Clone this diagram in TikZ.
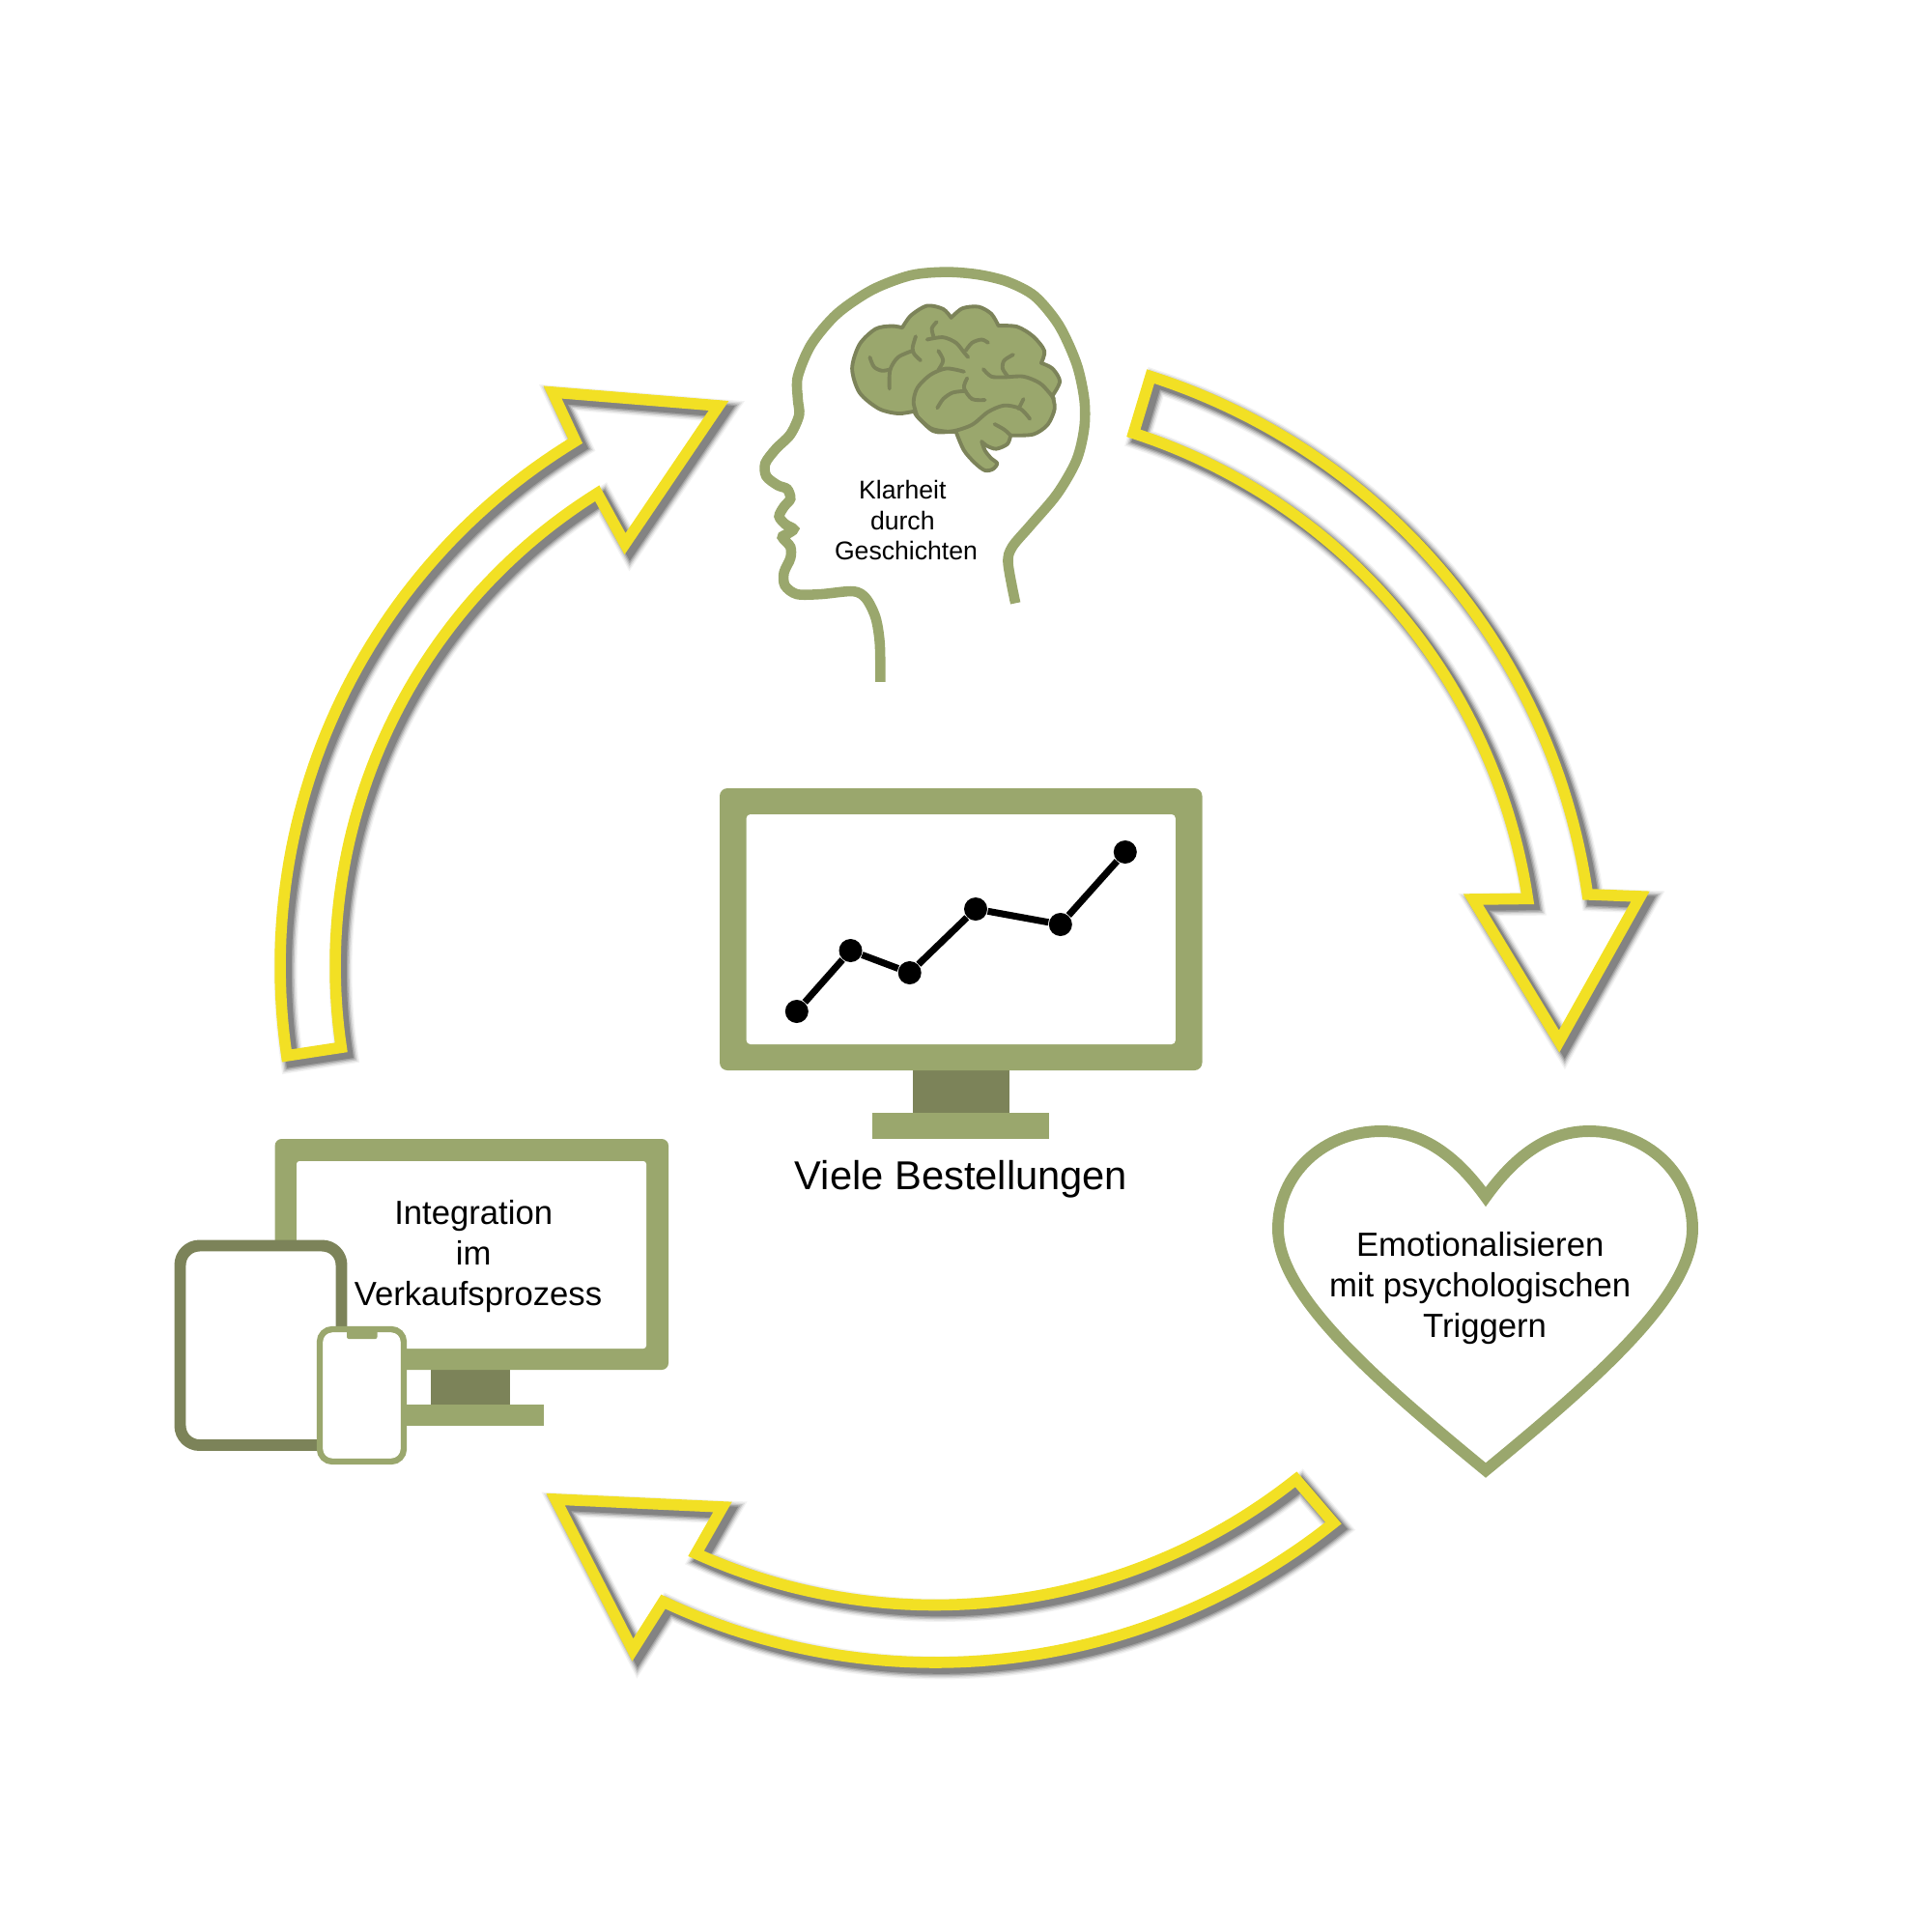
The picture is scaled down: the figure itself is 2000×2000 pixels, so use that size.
\documentclass[tikz,border=0pt]{standalone}
\usepackage{fontspec}
\setmainfont{Liberation Sans}
\usepackage{xcolor}
\usepackage{tikz}
\usetikzlibrary{positioning,calc}
\definecolor{leafgreen}{HTML}{9AA76D}
\definecolor{darkgreen}{HTML}{7C8359}
\definecolor{arrowyellow}{HTML}{F2E024}
\newcommand{\tspace}{\rule{0.278em}{0pt}}
\tikzset{
  arrowline/.style={draw=arrowyellow, line width=3.3pt, line join=miter, miter limit=15},
  chartdot/.style={circle, fill=black, inner sep=0pt, minimum size=0.24cm},
  label/.style={align=center, font=\fontsize{9.86}{11.85}\selectfont},
  headline/.style={draw=leafgreen, line width=3pt},
  brainline/.style={draw=darkgreen, line width=1.1pt, line cap=round, line join=round},
}
% hollow arrow with a soft shadow, the path is the argument
\newcommand{\shadowarrow}[1]{%
  \foreach \w/\o in {6.8/.05, 6/.08, 5.2/.12, 4.4/.16, 3.6/.2}
    \draw[shift={(5.5,5.5)}, black, line width=\w pt, opacity=\o, line join=miter, miter limit=15] #1;
  \draw[arrowline] #1;
}
\begin{document}
\begin{tikzpicture}[x=0.01cm, y=-0.01cm]
  \useasboundingbox (0,0) rectangle (2000,2000);

  % Arrows
  \shadowarrow{plot[domain=-72.2:-8.1, samples=60] ({989+661*cos(\x)},{1019+661*sin(\x)})
    -- (1698,928) -- (1614,1078) -- (1525,931)
    -- plot[domain=-8.5:-72, samples=60] ({988+600*cos(\x)},{1019+600*sin(\x)}) -- cycle}
  \shadowarrow{plot[domain=171.6:238.7, samples=60] ({926+636*cos(\x)},{1000+636*sin(\x)})
    -- (572,406) -- (744,420) -- (647,563)
    -- plot[domain=238:171.6, samples=60] ({924+577*cos(\x)},{1000+577*sin(\x)}) -- cycle}
  \shadowarrow{plot[domain=51.6:114.3, samples=60] ({968+601.5*cos(\x)},{1060+601.5*sin(\x)})
    -- (748,1560) -- (575,1552) -- (655,1708)
    -- plot[domain=115.2:51.4, samples=60] ({968+661*cos(\x)},{1060+661*sin(\x)}) -- cycle}

  % Head with brain
  \begin{scope}[shift={(750,250)}, x=0.00333cm, y=-0.00333cm]
    \draw[headline] plot[smooth] coordinates {(905,1125) (882,1000) (895,950) (950,885) (1035,785) (1095,680) (1119,580) (1119,490) (1095,380) (1040,260) (965,170) (880,125) (790,103) (690,95) (580,105) (460,150) (350,225) (270,320) (228,420) (228,490) (232,540) (205,600) (160,645) (127,690) (130,730) (165,758) (195,770) (205,800) (185,825) (170,855) (190,880) (215,895) (195,910) (180,920) (205,950) (205,985) (185,1030) (188,1070) (225,1097) (300,1097) (400,1088) (440,1110) (470,1170) (483,1250) (485,1370)};
    \draw[brainline, fill=leafgreen]
      plot[smooth] coordinates {(553,268) (520,263) (470,272) (420,320) (397,395) (420,470) (480,520) (540,535) (590,528)}
      -- plot[smooth] coordinates {(590,528) (600,545) (640,580) (680,590) (720,592)}
      -- plot[smooth] coordinates {(720,592) (745,650) (780,690) (810,712) (835,708) (848,690) (830,675) (810,650) (800,622)}
      -- plot[smooth] coordinates {(800,622) (815,635) (845,645) (880,630) (890,603)}
      -- plot[smooth] coordinates {(890,603) (960,600) (1005,570) (1027,520) (1020,480)}
      -- plot[smooth] coordinates {(1020,480) (1043,435) (1020,395) (985,378)}
      -- plot[smooth] coordinates {(985,378) (995,340) (960,295) (910,265) (852,262)}
      -- plot[smooth] coordinates {(852,262) (830,225) (790,203) (740,208) (705,237)}
      -- plot[smooth] coordinates {(705,237) (680,210) (630,200) (580,230) (553,268)} -- cycle;
    \draw[brainline] plot[smooth] coordinates {(452,360) (465,390) (490,402) (515,398)};
    \draw[brainline] plot[smooth] coordinates {(513,458) (515,400) (540,360) (585,340)};
    \draw[brainline] plot[smooth] coordinates {(595,295) (585,330) (590,350) (610,370)};
    \draw[brainline] plot[smooth] coordinates {(660,250) (645,270) (650,295)};
    \draw[brainline] plot[smooth] coordinates {(630,305) (680,298) (720,315) (745,345) (758,360)};
    \draw[brainline] plot[smooth] coordinates {(750,340) (770,315) (800,305) (820,315)};
    \draw[brainline] plot[smooth] coordinates {(665,340) (680,370) (665,400)};
    \draw[brainline] plot[smooth] coordinates {(745,405) (690,395) (640,415) (600,455) (588,500) (600,545)};
    \draw[brainline] plot[smooth] coordinates {(898,352) (870,370) (865,395) (880,418)};
    \draw[brainline] plot[smooth] coordinates {(805,397) (830,420) (870,422) (930,420) (980,440) (1010,470) (1025,490)};
    \draw[brainline] plot[smooth] coordinates {(755,425) (745,455) (770,490) (810,493)};
    \draw[brainline] plot[smooth] coordinates {(662,518) (680,490) (710,470) (750,465)};
    \draw[brainline] plot[smooth] coordinates {(600,545) (650,590) (710,590) (770,570) (820,530) (870,510) (920,520) (950,552)};
    \draw[brainline] plot[smooth] coordinates {(930,490) (915,520)};
    \draw[brainline] plot[smooth] coordinates {(840,568) (870,585) (890,603)};
  \end{scope}
  \node[label, font=\fontsize{7.57}{9.05}\selectfont] (klarheit) at (938,538.5) {Klarheit\tspace\\durch\tspace\\Geschichten};

  % Center monitor
  \fill[darkgreen] (944.7,1100) rectangle (1045,1152);
  \fill[leafgreen] (903,1152) rectangle (1086,1179);
  \fill[leafgreen, rounded corners=0.08cm] (745,816) rectangle (1244.5,1108);
  \fill[white, rounded corners=0.04cm] (772.7,843) rectangle (1216.8,1081);
  \node[chartdot] (d1) at (824.8,1047) {};
  \node[chartdot] (d2) at (880.5,984) {};
  \node[chartdot] (d3) at (941.7,1007) {};
  \node[chartdot] (d4) at (1010,941) {};
  \node[chartdot] (d5) at (1097.8,957) {};
  \node[chartdot] (d6) at (1164.8,882) {};
  \draw[line width=2pt] (d1) -- (d2) -- (d3) -- (d4) -- (d5) -- (d6);
  \node[font=\fontsize{11.85}{14}\selectfont] (bestellungen) at (995,1221) {Viele Bestellungen};

  % Heart
  \draw[draw=leafgreen, line width=3.4pt, line join=miter, miter limit=15] (1538,1239)
    .. controls (1510,1200) and (1475,1171) .. (1430,1171)
    .. controls (1370,1171) and (1323,1215) .. (1323,1272)
    .. controls (1323,1340) and (1420,1425) .. (1538,1522)
    .. controls (1656,1425) and (1752,1340) .. (1752,1272)
    .. controls (1752,1215) and (1705,1171) .. (1645,1171)
    .. controls (1600,1171) and (1566,1200) .. (1538,1239) -- cycle;
  \node[label] (herz) at (1537,1333.5) {Emotionalisieren\tspace\\mit psychologischen\tspace\\Triggern};

  % Devices
  \fill[darkgreen] (446,1410) rectangle (528,1454);
  \fill[leafgreen] (414,1454) rectangle (562.5,1476);
  \fill[leafgreen, rounded corners=0.07cm] (284.6,1179) rectangle (692,1418);
  \fill[white, rounded corners=0.03cm] (307,1202) rectangle (669,1396);
  \node[label] (integration) at (495,1300.5) {Integration\tspace\\im\tspace\\Verkaufsprozess};
  \draw[darkgreen, fill=white, line width=3.4pt, rounded corners=0.2cm] (186.5,1289.5) rectangle (353.5,1496);
  \draw[leafgreen, fill=white, line width=1.8pt, rounded corners=0.13cm] (331,1376) rectangle (418,1513);
  \fill[leafgreen, rounded corners=0.02cm] (359,1376) rectangle (390.5,1386);
\end{tikzpicture}
\end{document}
